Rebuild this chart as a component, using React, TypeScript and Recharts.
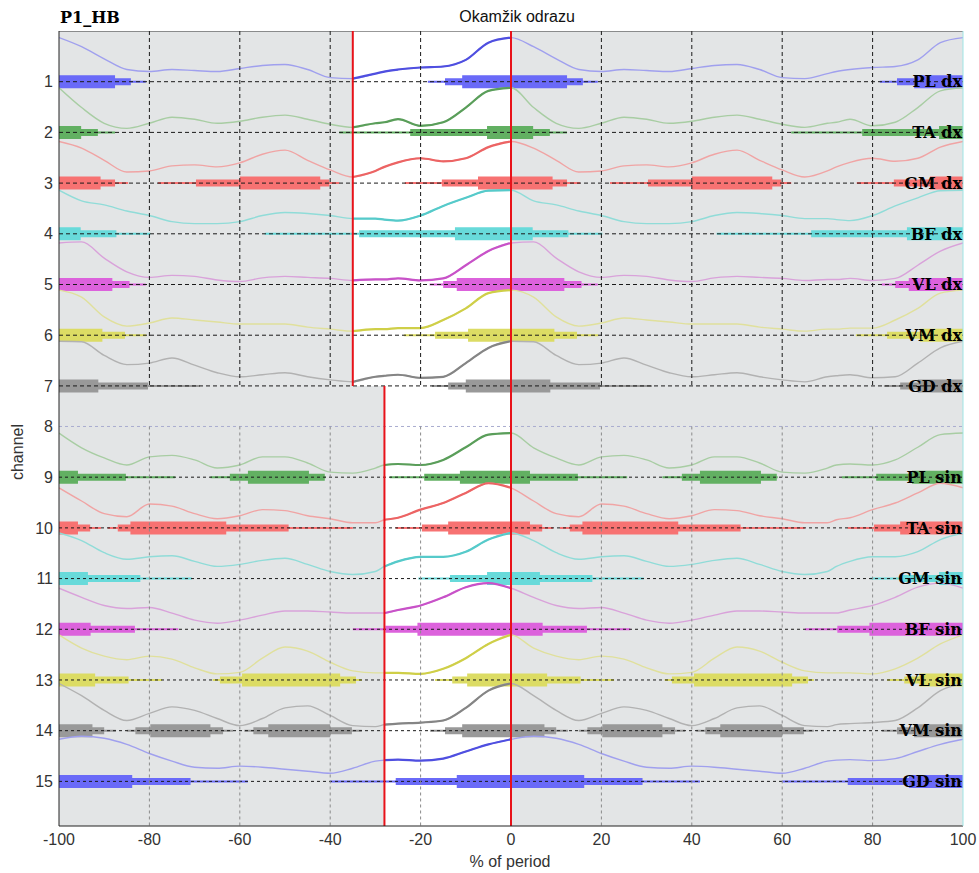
import { LineChart, Line, XAxis, YAxis, CartesianGrid, ReferenceArea } from 'recharts';

const X_TICKS = [-100, -80, -60, -40, -20, 0, 20, 40, 60, 80, 100];
const CHANNELS = [1, 2, 3, 4, 5, 6, 7, 8, 9, 10, 11, 12, 13, 14, 15];
const CHANNEL_NAMES = ['PL dx', 'TA dx', 'GM dx', 'BF dx', 'VL dx', 'VM dx', 'GD dx', '', 'PL sin', 'TA sin', 'GM sin', 'BF sin', 'VL sin', 'VM sin', 'GD sin'];
const TOP_WINDOW_START = -35;
const BOTTOM_WINDOW_START = -28;
const REFLEX = 0;

// phase within one period (x = phase - 100 and x = phase)
const PHASES = [0, 5, 10, 15, 20, 25, 30, 35, 40, 45, 50, 55, 60, 65, 70, 72, 75, 80, 85, 90, 95];

// envelope height above the channel line, in channel units
const plDx = [0.87, 0.69, 0.45, 0.24, 0.2, 0.24, 0.22, 0.2, 0.26, 0.32, 0.34, 0.24, 0.08, 0.06, 0.16, 0.2, 0.24, 0.28, 0.3, 0.43, 0.77];
const taDx = [0.88, 0.49, 0.18, 0.08, 0.18, 0.3, 0.26, 0.18, 0.22, 0.3, 0.34, 0.26, 0.16, 0.1, 0.18, 0.2, 0.26, 0.13, 0.2, 0.49, 0.82];
const gmDx = [0.82, 0.69, 0.45, 0.22, 0.24, 0.34, 0.36, 0.32, 0.4, 0.57, 0.65, 0.45, 0.26, 0.12, 0.24, 0.32, 0.41, 0.49, 0.43, 0.49, 0.71];
const bfDx = [0.86, 0.65, 0.57, 0.45, 0.36, 0.24, 0.2, 0.2, 0.24, 0.36, 0.42, 0.4, 0.36, 0.3, 0.3, 0.28, 0.26, 0.36, 0.55, 0.71, 0.85];
const vlDx = [0.82, 0.84, 0.52, 0.25, 0.14, 0.18, 0.16, 0.09, 0.06, 0.13, 0.16, 0.14, 0.12, 0.08, 0.1, 0.1, 0.12, 0.08, 0.12, 0.38, 0.66];
const vmDx = [0.89, 0.75, 0.36, 0.18, 0.24, 0.34, 0.3, 0.26, 0.22, 0.22, 0.22, 0.16, 0.12, 0.08, 0.12, 0.12, 0.14, 0.14, 0.3, 0.53, 0.83];
const gdDx = [0.88, 0.87, 0.6, 0.42, 0.45, 0.55, 0.41, 0.26, 0.18, 0.22, 0.26, 0.18, 0.12, 0.08, 0.18, 0.2, 0.22, 0.16, 0.18, 0.45, 0.75];
const plSin = [0.87, 0.58, 0.38, 0.24, 0.4, 0.43, 0.34, 0.18, 0.24, 0.4, 0.4, 0.28, 0.1, 0.08, 0.18, 0.24, 0.26, 0.24, 0.34, 0.59, 0.84];
const taSin = [0.79, 0.53, 0.28, 0.22, 0.47, 0.43, 0.28, 0.18, 0.24, 0.36, 0.34, 0.24, 0.18, 0.1, 0.1, 0.16, 0.2, 0.36, 0.49, 0.69, 0.88];
const gmSin = [0.9, 0.75, 0.51, 0.38, 0.43, 0.45, 0.34, 0.24, 0.28, 0.36, 0.4, 0.28, 0.14, 0.08, 0.14, 0.24, 0.34, 0.43, 0.43, 0.53, 0.77];
const bfSin = [0.81, 0.63, 0.47, 0.41, 0.43, 0.32, 0.18, 0.12, 0.18, 0.28, 0.36, 0.36, 0.34, 0.32, 0.32, 0.32, 0.38, 0.47, 0.63, 0.83, 0.91];
const vlSin = [0.89, 0.63, 0.47, 0.4, 0.47, 0.41, 0.24, 0.12, 0.15, 0.43, 0.65, 0.57, 0.35, 0.18, 0.14, 0.14, 0.14, 0.12, 0.22, 0.43, 0.71];
const vmSin = [0.93, 0.69, 0.4, 0.2, 0.34, 0.47, 0.4, 0.24, 0.1, 0.24, 0.45, 0.49, 0.3, 0.1, 0.08, 0.12, 0.14, 0.16, 0.2, 0.45, 0.79];
const gdSin = [0.83, 0.89, 0.85, 0.73, 0.55, 0.4, 0.28, 0.26, 0.3, 0.28, 0.24, 0.2, 0.16, 0.26, 0.4, 0.42, 0.43, 0.41, 0.45, 0.59, 0.73];

type Spans = [number, number][];
type Activation = { thin: Spans; medium: Spans; thick: Spans };

// activation spans over one period (% of period, repeats every 100)
const plDxBars: Activation = { thin: [[-18.4, 19.2]], medium: [[-14.6, 15.9]], thick: [[-10.8, 12.4]] };
const taDxBars: Activation = { thin: [[-38, 12.4]], medium: [[-22.3, 8.6]], thick: [[-5.3, 4.9]] };
const gmDxBars: Activation = { thin: [[-23.5, 15.3], [21.9, 62]], medium: [[-15.3, 12.4], [30.3, 59.8]], thick: [[-7.3, 9.2], [40, 57.8]] };
const bfDxBars: Activation = { thin: [[-54.5, 20.2]], medium: [[-33.6, 12.7]], thick: [[-12.4, 4.8]] };
const vlDxBars: Activation = { thin: [[-18, 19.2]], medium: [[-15, 15.6]], thick: [[-12, 11.8]] };
const vmDxBars: Activation = { thin: [[-23.7, 19.3]], medium: [[-16.8, 14.6]], thick: [[-9.5, 9.6]] };
const gdDxBars: Activation = { thin: [[-17.5, 31.2]], medium: [[-13.9, 19.7]], thick: [[-10, 8.7]] };
const plSinBars: Activation = { thin: [[-26.8, 25.7], [33.5, 59]], medium: [[-19.2, 14.8], [37.8, 58.8]], thick: [[-11.3, 4.2], [41.8, 55.3]] };
const taSinBars: Activation = { thin: [[-25.5, 9.3], [10.8, 65]], medium: [[-19.7, 6.9], [13, 50.8]], thick: [[-13.9, 4.2], [15.8, 37]] };
const gmSinBars: Activation = { thin: [[-20.5, 29.4]], medium: [[-13.5, 18]], thick: [[-5.3, 6.4]] };
const bfSinBars: Activation = { thin: [[-35, 26.4]], medium: [[-27.8, 16.8]], thick: [[-20.7, 7]] };
const vlSinBars: Activation = { thin: [[-16.8, 22.8], [34, 67]], medium: [[-13, 15.4], [35.6, 65.7]], thick: [[-9.7, 8], [40.5, 62.2]] };
const vmSinBars: Activation = { thin: [[-17.9, 12.6], [15, 38.5], [41, 67]], medium: [[-14.6, 10], [16.9, 36.3], [43, 64.8]], thick: [[-10.8, 7.4], [20.2, 33.5], [46.3, 60]] };
const gdSinBars: Activation = { thin: [[-40, 41.8]], medium: [[-25.5, 29.1]], thick: [[-12, 16.2]] };

const ENVELOPES = [plDx, taDx, gmDx, bfDx, vlDx, vmDx, gdDx, null, plSin, taSin, gmSin, bfSin, vlSin, vmSin, gdSin];
const ACTIVATIONS = [plDxBars, taDxBars, gmDxBars, bfDxBars, vlDxBars, vmDxBars, gdDxBars, null, plSinBars, taSinBars, gmSinBars, bfSinBars, vlSinBars, vmSinBars, gdSinBars];

const PALETTE = {
  blue: { bar: '#6a6af8', light: '#a0a0ee', dark: '#4f4fe0' },
  green: { bar: '#62b062', light: '#a8cda3', dark: '#5a9e5a' },
  red: { bar: '#f77272', light: '#f0a4a4', dark: '#ec6464' },
  cyan: { bar: '#68dada', light: '#90dcd8', dark: '#56caca' },
  magenta: { bar: '#dc62dc', light: '#d9a2da', dark: '#c852c8' },
  yellow: { bar: '#dcdc64', light: '#e0e09c', dark: '#cfcf48' },
  gray: { bar: '#999999', light: '#b2b2b2', dark: '#858585' },
};
const CHANNEL_COLORS = ['blue', 'green', 'red', 'cyan', 'magenta', 'yellow', 'gray', 'gray', 'green', 'red', 'cyan', 'magenta', 'yellow', 'gray', 'blue'] as const;

const PANEL_SPLIT = 7;
const PANEL_GAP = 0.2;
const Y_MAX = 15.68;
const channelPos = (ch: number) => (ch <= PANEL_SPLIT ? ch : ch - PANEL_GAP);
const TICK_POS = CHANNELS.map(channelPos);
const LABEL_POS = CHANNELS.filter((c) => CHANNEL_NAMES[c - 1]).map(channelPos);
const nameAt = (v: number) => CHANNEL_NAMES[TICK_POS.findIndex((p) => Math.abs(p - v) < 0.01)] ?? '';
const numberAt = (v: number) => String(CHANNELS[TICK_POS.findIndex((p) => Math.abs(p - v) < 0.01)] ?? '');

const tile = (spans: Spans): Spans => {
  const out: Spans = [];
  [-100, 0, 100].forEach((o) =>
    spans.forEach(([a, b]) => {
      const s = Math.max(a + o, -100);
      const e = Math.min(b + o, 100);
      if (e > s) out.push([s, e]);
    })
  );
  return out;
};

const spanPoints = (spans: Spans, y: number) =>
  spans.flatMap(([a, b]) => [{ x: a, y }, { x: b, y }, { x: b, y: null }]);

const curvePoints = (vals: number[], base: number) => {
  const pts = [-100, 0].flatMap((o) => PHASES.map((p, i) => ({ x: p + o, y: base - vals[i] })));
  pts.push({ x: 100, y: base - vals[0] });
  return pts;
};

const GRID_X = X_TICKS.filter((t) => t > -100 && t < 100);
const topVertical = GRID_X.flatMap((x) => [{ x, y: 0 }, { x, y: PANEL_SPLIT }, { x, y: null }]);
const bottomVertical = GRID_X.flatMap((x) => [{ x, y: channelPos(8) }, { x, y: Y_MAX }, { x, y: null }]);
const rowLines = (chs: number[]) => chs.flatMap((c) => [{ x: -100, y: channelPos(c) }, { x: 100, y: channelPos(c) }, { x: 100, y: null }]);

const BAR_WIDTH = { thin: 2, medium: 7, thick: 13 };
const common = { yAxisId: 'left', dataKey: 'y', dot: false, activeDot: false, isAnimationActive: false, type: 'linear' as const };

const NameTick = (props: any) => (
  <text
    x={props.x}
    y={props.y}
    dy="0.36em"
    textAnchor="end"
    fontSize={16}
    fontWeight="bold"
    fontFamily='"DejaVu Serif", serif'
    fill="#000"
  >
    {nameAt(props.payload.value)}
  </text>
);

const App = () => (
  <div style={{ position: 'relative', width: 979, height: 873, background: '#fff', fontFamily: '"Liberation Sans", Arial, sans-serif' }}>
    <style>{'body{margin:0}'}</style>
    <LineChart width={979} height={873} margin={{ top: 31, right: 16, bottom: 17, left: 0 }}>
      <CartesianGrid horizontal={false} vertical={false} fill="#e3e5e6" yAxisId="left" />
      <XAxis
        type="number"
        dataKey="x"
        domain={[-100, 100]}
        ticks={X_TICKS}
        allowDataOverflow
        tickLine={false}
        tickSize={0}
        tickMargin={8}
        height={30}
        axisLine={{ stroke: '#222' }}
        tick={{ fontSize: 16, fill: '#333', fontFamily: '"Liberation Sans", Arial' }}
      />
      <YAxis
        yAxisId="left"
        type="number"
        domain={[0, Y_MAX]}
        reversed
        allowDataOverflow
        ticks={TICK_POS}
        tickFormatter={numberAt}
        width={59}
        tickLine={false}
        tickSize={0}
        tickMargin={6}
        axisLine={{ stroke: '#222' }}
        tick={{ fontSize: 16, fill: '#333', fontFamily: '"Liberation Sans", Arial' }}
      />
      <YAxis
        yAxisId="right"
        orientation="right"
        type="number"
        domain={[0, Y_MAX]}
        reversed
        allowDataOverflow
        mirror
        ticks={LABEL_POS}
        width={16}
        tickLine={false}
        tickSize={0}
        tickMargin={1}
        axisLine={{ stroke: '#9ee5e5' }}
        tick={NameTick}
      />
      <ReferenceArea yAxisId="left" x1={TOP_WINDOW_START} x2={REFLEX} y1={0} y2={PANEL_SPLIT} fill="#ffffff" fillOpacity={1} stroke="none" />
      <ReferenceArea yAxisId="left" x1={BOTTOM_WINDOW_START} x2={REFLEX} y1={PANEL_SPLIT} y2={Y_MAX} fill="#ffffff" fillOpacity={1} stroke="none" />

      {CHANNELS.flatMap((ch, i) => {
        const act = ACTIVATIONS[i];
        if (!act) return [];
        const c = PALETTE[CHANNEL_COLORS[i]];
        return (['thin', 'medium', 'thick'] as const).map((lvl) => (
          <Line
            key={`bar-${ch}-${lvl}`}
            {...common}
            data={spanPoints(tile(act[lvl]), channelPos(ch))}
            stroke={c.bar}
            strokeWidth={BAR_WIDTH[lvl]}
          />
        ));
      })}

      {CHANNELS.flatMap((ch, i) => {
        const env = ENVELOPES[i];
        if (!env) return [];
        const c = PALETTE[CHANNEL_COLORS[i]];
        const pts = curvePoints(env, channelPos(ch));
        const start = ch <= PANEL_SPLIT ? TOP_WINDOW_START : BOTTOM_WINDOW_START;
        return [
          <Line key={`env-${ch}`} {...common} type="monotone" data={pts} stroke={c.light} strokeWidth={1.4} />,
          <Line
            key={`envw-${ch}`}
            {...common}
            type="monotone"
            data={pts.filter((p) => p.x >= start && p.x <= REFLEX)}
            stroke={c.dark}
            strokeWidth={2.2}
          />,
        ];
      })}

      <Line key="rows-top" {...common} data={rowLines(CHANNELS.filter((c) => c <= 7))} stroke="#1a1a1a" strokeWidth={1} strokeDasharray="4 3" />
      <Line key="rows-bottom" {...common} data={rowLines(CHANNELS.filter((c) => c >= 9))} stroke="#1a1a1a" strokeWidth={1} strokeDasharray="3 3" />
      <Line key="row-8" {...common} data={rowLines([8])} stroke="#a9accf" strokeWidth={1} strokeDasharray="3 3" />
      <Line key="vert-top" {...common} data={topVertical} stroke="#1a1a1a" strokeWidth={1} strokeDasharray="4 3" />
      <Line key="vert-bottom" {...common} data={bottomVertical} stroke="#8a8a8a" strokeWidth={1} strokeDasharray="3 3" />
      <Line key="top-border" {...common} data={[{ x: -100, y: 0 }, { x: 100, y: 0 }]} stroke="#333" strokeWidth={1} />

      <Line key="red-top" {...common} data={[{ x: TOP_WINDOW_START, y: 0 }, { x: TOP_WINDOW_START, y: PANEL_SPLIT }]} stroke="#e8121a" strokeWidth={2} />
      <Line key="red-bottom" {...common} data={[{ x: BOTTOM_WINDOW_START, y: PANEL_SPLIT }, { x: BOTTOM_WINDOW_START, y: Y_MAX }]} stroke="#e8121a" strokeWidth={2} />
      <Line key="red-reflex" {...common} data={[{ x: REFLEX, y: 0 }, { x: REFLEX, y: Y_MAX }]} stroke="#e8121a" strokeWidth={2} />
    </LineChart>

    <div style={{ position: 'absolute', left: 60, top: 9, font: 'bold 16px "DejaVu Serif", serif', lineHeight: '18px' }}>P1_HB</div>
    <div style={{ position: 'absolute', left: 517, top: 8, transform: 'translateX(-50%)', fontSize: 16, lineHeight: '18px', color: '#111', whiteSpace: 'nowrap' }}>
      Okamžik odrazu
    </div>
    <div style={{ position: 'absolute', left: 510, top: 853, transform: 'translateX(-50%)', fontSize: 16, lineHeight: '18px', color: '#333', whiteSpace: 'nowrap' }}>
      % of period
    </div>
    <div style={{ position: 'absolute', left: 18, top: 452, transform: 'translate(-50%, -50%) rotate(-90deg)', fontSize: 16, lineHeight: '18px', color: '#333', whiteSpace: 'nowrap' }}>
      channel
    </div>
  </div>
);

export default App;
